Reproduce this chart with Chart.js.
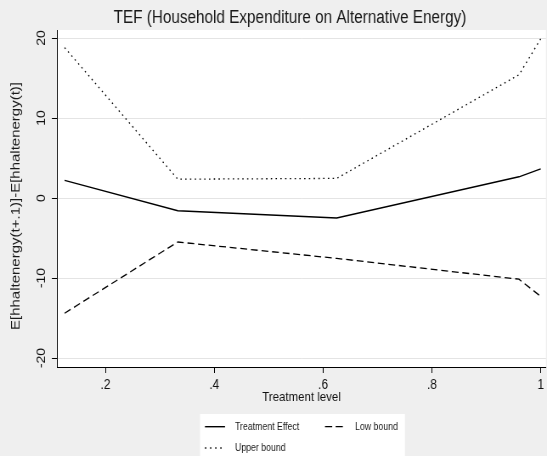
<!DOCTYPE html>
<html>
<head>
<meta charset="utf-8">
<script src="https://cdn.jsdelivr.net/npm/chart.js@4.4.1/dist/chart.umd.min.js"></script>
<style>
  html, body { margin: 0; padding: 0; background: #efefef; overflow: hidden; }
  /* the figure is laid out wide, then narrowed horizontally */
  #wrap { width: 644px; height: 456px; transform: scaleX(0.84938); transform-origin: 0 0; position: relative; }
  canvas { display: block; }
</style>
</head>
<body>
<div id="wrap"><canvas id="c"></canvas></div>
<script>
// Treatment levels and estimated effects with bounds
const treatmentLevels = [0.125, 0.333, 0.625, 0.96, 1.0];
const treatmentEffect = [2.2, -1.6, -2.5, 2.65, 3.65];
const lowBound = [-14.4, -5.5, -7.55, -10.15, -12.3];
const upperBound = [18.8, 2.35, 2.45, 15.4, 19.9];
const xTickValues = [0.2, 0.4, 0.6, 0.8, 1.0];
const yTickValues = [-20, -10, 0, 10, 20];
const seriesNames = ['Treatment Effect', 'Low bound', 'Upper bound'];

const chartTitle = 'TEF (Household Expenditure on Alternative Energy)';
const yTitle = 'E[hhaltenergy(t+.1)]-E[hhaltenergy(t)]';
const xTitle = 'Treatment level';

const FONT = "'Liberation Sans', Arial, sans-serif";

function pts(ys) { return treatmentLevels.map((x, i) => ({ x: x, y: ys[i] })); }

function fmtX(v) {
  if (Math.abs(v - 1) < 1e-9) return '1';
  return String(Math.round(v * 10) / 10).replace(/^0\./, '.');
}

const decor = {
  id: 'decor',
  beforeDraw(chart) {
    const { ctx, chartArea: a } = chart;
    ctx.save();
    ctx.fillStyle = '#efefef';
    ctx.fillRect(0, 0, chart.width, chart.height);
    ctx.fillStyle = '#ffffff';
    ctx.fillRect(a.left, a.top, a.right - a.left, a.bottom - a.top);
    ctx.restore();
  },
  afterDraw(chart) {
    const ctx = chart.ctx;
    ctx.save();
    // title
    ctx.fillStyle = '#1a1a1a';
    ctx.font = '18px ' + FONT;
    ctx.textAlign = 'center';
    ctx.textBaseline = 'alphabetic';
    ctx.fillText(chartTitle, 341.4, 22.5);
    // y axis title
    ctx.save();
    ctx.translate(18.8, 206);
    ctx.rotate(-Math.PI / 2);
    ctx.font = '15px ' + FONT;
    ctx.textBaseline = 'middle';
    ctx.fillText(yTitle, 0, 0);
    ctx.restore();

    // legend box
    const bx0 = 235.5, bx1 = 476.8, by0 = 414;
    ctx.fillStyle = '#ffffff';
    ctx.fillRect(bx0, by0, bx1 - bx0, chart.height - by0);
    const slots = [
      { sx: 241.3, tx: 276.7, y: 426.7 },
      { sx: 382.6, tx: 418.0, y: 426.7 },
      { sx: 241.3, tx: 276.7, y: 448.0 }
    ];
    chart.data.datasets.forEach((ds, i) => {
      const s = slots[i];
      ctx.strokeStyle = ds.borderColor;
      ctx.lineWidth = ds.borderWidth;
      ctx.setLineDash(ds.legendDash || []);
      ctx.beginPath();
      ctx.moveTo(s.sx, s.y);
      ctx.lineTo(s.sx + 23.6, s.y);
      ctx.stroke();
      ctx.setLineDash([]);
      ctx.fillStyle = '#1a1a1a';
      ctx.font = '10.3px ' + FONT;
      ctx.textAlign = 'left';
      ctx.textBaseline = 'middle';
      ctx.fillText(ds.label, s.tx, s.y);
    });
    ctx.restore();
  }
};

new Chart(document.getElementById('c'), {
  type: 'line',
  data: {
    datasets: [
      { label: seriesNames[0], data: pts(treatmentEffect), borderColor: '#000', borderWidth: 1.4, legendDash: [] },
      { label: seriesNames[1], data: pts(lowBound), borderColor: '#000', borderWidth: 1.3, borderDash: [8, 4.5], legendDash: [8.5, 4] },
      { label: seriesNames[2], data: pts(upperBound), borderColor: '#000', borderWidth: 1.3, borderDash: [1.6, 4], legendDash: [1.6, 4.4] }
    ]
  },
  options: {
    responsive: true,
    maintainAspectRatio: false,
    animation: false,
    devicePixelRatio: 1,
    layout: { padding: { top: 30, right: 0, bottom: 0, left: 0 } },
    elements: { point: { radius: 0 }, line: { tension: 0 } },
    plugins: { legend: { display: false }, title: { display: false }, tooltip: { enabled: false } },
    scales: {
      x: {
        type: 'linear',
        min: 0.111,
        max: 1.0097,
        afterFit(s) { s.height = 89; },
        afterBuildTicks(s) { s.ticks = xTickValues.map(v => ({ value: v })); },
        border: { color: '#000', width: 1 },
        grid: { drawOnChartArea: false, tickLength: 6, tickColor: '#000', tickWidth: 1 },
        ticks: { color: '#111', font: { family: FONT, size: 14 }, padding: 3.5, maxRotation: 0, callback: v => fmtX(v) },
        title: { display: true, text: xTitle, color: '#111', font: { family: FONT, size: 13.5 }, padding: { top: 0, bottom: 51 } }
      },
      y: {
        type: 'linear',
        min: -21.125,
        max: 21,
        afterFit(s) { s.width = 67.1; },
        afterBuildTicks(s) { s.ticks = yTickValues.map(v => ({ value: v })); },
        border: { color: '#000', width: 1 },
        grid: { color: '#e4e4e4', lineWidth: 1, tickLength: 6, tickColor: '#000', tickWidth: 1 },
        ticks: { color: '#111', font: { family: FONT, size: 14 }, minRotation: 90, maxRotation: 90, crossAlign: 'center', padding: 2.3, callback: v => String(v) }
      }
    }
  },
  plugins: [decor]
});
</script>
</body>
</html>
